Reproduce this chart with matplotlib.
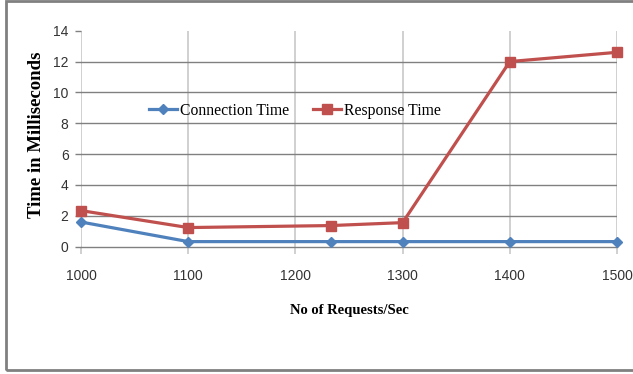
import matplotlib.pyplot as plt
from matplotlib.patches import Rectangle

requests = [1000, 1100, 1233, 1300, 1400, 1500]
connection_time = [1.6, 0.33, 0.33, 0.33, 0.33, 0.33]
response_time = [2.34, 1.24, 1.37, 1.56, 12.0, 12.6]

x_ticks = [1000, 1100, 1200, 1300, 1400, 1500]
y_ticks = [0, 2, 4, 6, 8, 10, 12, 14]

fig = plt.figure(figsize=(6.33, 3.74), dpi=100)
ax = fig.add_axes([81 / 633, 127.3 / 374, 536 / 633, 216 / 374])

ax.plot(requests, connection_time, color="#4F81BD", lw=2.3, marker="D",
        markersize=5, label="Connection Time", zorder=3, clip_on=False)
ax.plot(requests, response_time, color="#C0504D", lw=2.3, marker="s",
        markersize=7.5, label="Response Time", zorder=4, clip_on=False)

ax.set_xlim(1000, 1500)
ax.set_ylim(0, 14)
ax.set_xticks(x_ticks)
ax.set_yticks(y_ticks)

for s in ax.spines.values():
    s.set_visible(False)

# horizontal grid dark gray, vertical grid light gray
ax.grid(axis="y", color="#808080", lw=1)
ax.grid(axis="x", color="#c8c8c8", lw=1.2)
ax.get_ygridlines()[-1].set_visible(False)
ax.get_ygridlines()[0].set_clip_on(False)
ax.set_axisbelow(True)

ax.tick_params(axis="y", length=4, width=1, color="#808080", pad=5,
               labelsize=10, labelcolor="#333333")
ax.tick_params(axis="x", length=5, width=1.2, color="#c8c8c8", pad=11,
               labelsize=10, labelcolor="#333333")
for lab in ax.get_xticklabels() + ax.get_yticklabels():
    lab.set_fontfamily("Liberation Sans")

ax.set_xlabel("No of Requests/Sec", fontfamily="Liberation Serif",
              fontweight="bold", fontsize=10.5, labelpad=15)
ax.set_ylabel("Time in Milliseconds", fontfamily="Liberation Serif",
              fontweight="bold", fontsize=13.5)
ax.yaxis.set_label_coords(-36 / 536, 0.516)

fig.legend(loc="center left", bbox_to_anchor=(141 / 633, (374 - 110.7) / 374),
           ncol=2, frameon=False, borderpad=0, handlelength=1.8,
           handletextpad=0.2, columnspacing=1.5,
           prop={"family": "Liberation Serif", "size": 11.3})

fig.patches.append(Rectangle((5.5 / 633, 4 / 374), 1.2, 369 / 374,
                             transform=fig.transFigure, fill=False,
                             edgecolor="#808080", lw=2))

fig.savefig("out.png", dpi=100)
